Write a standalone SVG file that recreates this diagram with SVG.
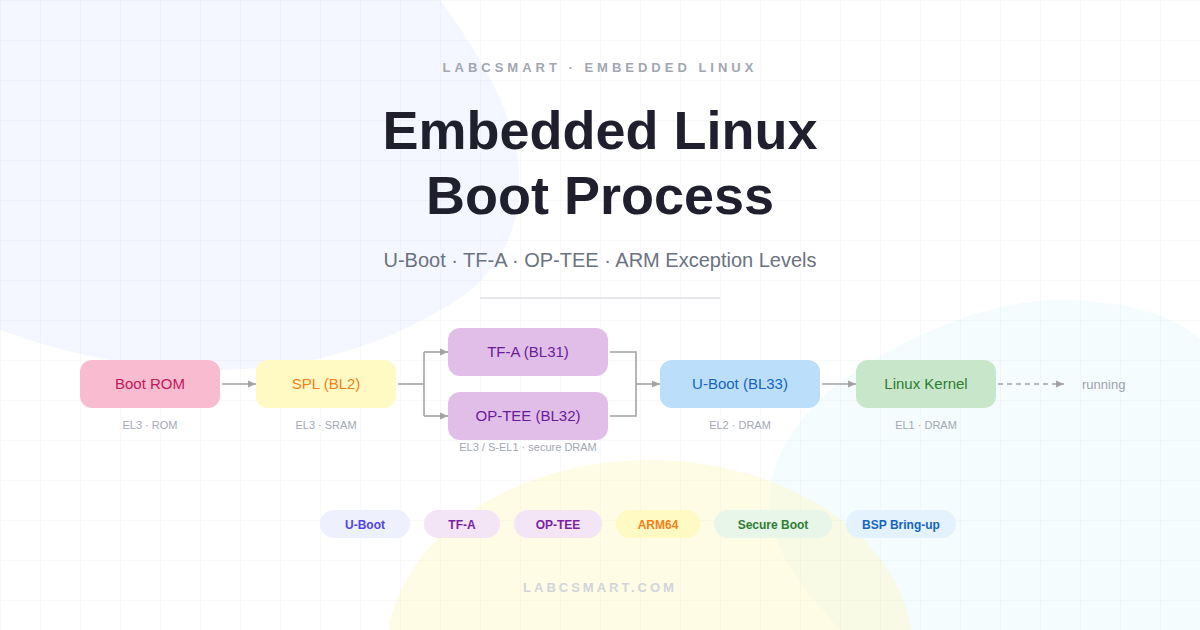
<svg xmlns="http://www.w3.org/2000/svg" width="1200" height="630" viewBox="0 0 1200 630">
<defs>
<pattern id="grid" width="40" height="40" patternUnits="userSpaceOnUse">
<path d="M40,0 L0,0 L0,40" fill="none" stroke="#1e2850" stroke-opacity="0.05" stroke-width="1"/>
</pattern>
<marker id="arr" markerUnits="userSpaceOnUse" markerWidth="8" markerHeight="8" viewBox="0 0 8 8" refX="8" refY="4" orient="auto">
<path d="M0,0.5 L8,4 L0,7.5 Z" fill="#a3a3a3"/>
</marker>
</defs>
<style>
text{font-family:"Liberation Sans",Arial,sans-serif}
.node text{font-size:15px;text-anchor:middle}
.node text.sub{font-size:11px;fill:#a3a8b3;text-anchor:middle}
.conn path,.conn line{fill:none;stroke:#a3a3a3;stroke-width:1.6}
.pill text{font-size:12px;font-weight:bold;text-anchor:middle}
</style>
<rect width="1200" height="630" fill="#ffffff"/>
<path d="M440,0 C470,40 500,90 512,130 C522,165 522,205 510,235 C495,272 470,295 440,310 C390,340 320,368 220,370 C140,371 60,352 0,330 L0,0 Z" fill="#e0e7ff" fill-opacity="0.35"/>
<path d="M1060,300 C1130,300 1180,318 1200,340 L1200,630 L840,630 C810,595 775,560 770,510 C766,460 800,410 850,375 C910,335 990,300 1060,300 Z" fill="#e0f7fa" fill-opacity="0.35"/>
<ellipse cx="650" cy="652" rx="263" ry="192" fill="#fef9c3" fill-opacity="0.42"/>
<rect width="1200" height="630" fill="url(#grid)"/>

<text x="600" y="72" text-anchor="middle" font-size="13" font-weight="bold" letter-spacing="4" fill="#a2a6b1">LABCSMART · EMBEDDED LINUX</text>
<text x="600" y="149" text-anchor="middle" font-size="54" font-weight="bold" fill="#1f1f2e">Embedded Linux</text>
<text x="600" y="214" text-anchor="middle" font-size="54" font-weight="bold" fill="#1f1f2e">Boot Process</text>
<text x="600" y="267" text-anchor="middle" font-size="20" fill="#6b7280">U-Boot · TF-A · OP-TEE · ARM Exception Levels</text>
<line x1="480" y1="298" x2="720" y2="298" stroke="#e5e7eb" stroke-width="2"/>

<g class="conn" id="connectors">
<line x1="222" y1="384" x2="256" y2="384" marker-end="url(#arr)"/>
<path d="M398,384 H424"/>
<path d="M424,352 V416"/>
<line x1="424" y1="352" x2="448" y2="352" marker-end="url(#arr)"/>
<line x1="424" y1="416" x2="448" y2="416" marker-end="url(#arr)"/>
<path d="M610,352 H636 V416 H610"/>
<line x1="636" y1="384" x2="660" y2="384" marker-end="url(#arr)"/>
<line x1="822" y1="384" x2="856" y2="384" marker-end="url(#arr)"/>
<line x1="998" y1="384" x2="1064" y2="384" stroke-dasharray="5 4" marker-end="url(#arr)"/>
</g>

<g class="node" id="boot-rom">
<rect x="80" y="360" width="140" height="48" rx="12" fill="#f8bbd0"/>
<text x="150" y="389" fill="#c2185b">Boot ROM</text>
<text class="sub" x="150" y="428.5">EL3 · ROM</text>
</g>
<g class="node" id="spl">
<rect x="256" y="360" width="140" height="48" rx="12" fill="#fff9c4"/>
<text x="326" y="389" fill="#f57f17">SPL (BL2)</text>
<text class="sub" x="326" y="428.5">EL3 · SRAM</text>
</g>
<g class="node" id="tfa">
<rect x="448" y="328" width="160" height="48" rx="12" fill="#e1bee7"/>
<text x="528" y="357" fill="#6a1b9a">TF-A (BL31)</text>
</g>
<g class="node" id="optee">
<rect x="448" y="392" width="160" height="48" rx="12" fill="#e1bee7"/>
<text x="528" y="421" fill="#6a1b9a">OP-TEE (BL32)</text>
<text class="sub" x="528" y="450.5">EL3 / S-EL1 · secure DRAM</text>
</g>
<g class="node" id="uboot">
<rect x="660" y="360" width="160" height="48" rx="12" fill="#bbdefb"/>
<text x="740" y="389" fill="#1565c0">U-Boot (BL33)</text>
<text class="sub" x="740" y="428.5">EL2 · DRAM</text>
</g>
<g class="node" id="kernel">
<rect x="856" y="360" width="140" height="48" rx="12" fill="#c8e6c9"/>
<text x="926" y="389" fill="#2e7d32">Linux Kernel</text>
<text class="sub" x="926" y="428.5">EL1 · DRAM</text>
</g>
<g id="running">
<text x="1082" y="388.5" font-size="13" fill="#9ca3af">running</text>
</g>

<g class="pill" id="tag-uboot"><rect x="320" y="510" width="90" height="28" rx="14" fill="#eef0fd"/><text x="365" y="528.5" fill="#4f46e5">U-Boot</text></g>
<g class="pill" id="tag-tfa"><rect x="424" y="510" width="76" height="28" rx="14" fill="#f3e5f5"/><text x="462" y="528.5" fill="#7b1fa2">TF-A</text></g>
<g class="pill" id="tag-optee"><rect x="514" y="510" width="88" height="28" rx="14" fill="#f3e5f5"/><text x="558" y="528.5" fill="#7b1fa2">OP-TEE</text></g>
<g class="pill" id="tag-arm64"><rect x="616" y="510" width="84" height="28" rx="14" fill="#fff9c4"/><text x="658" y="528.5" fill="#f57f17">ARM64</text></g>
<g class="pill" id="tag-secure"><rect x="714" y="510" width="118" height="28" rx="14" fill="#e8f5e9"/><text x="773" y="528.5" fill="#2e7d32">Secure Boot</text></g>
<g class="pill" id="tag-bsp"><rect x="846" y="510" width="110" height="28" rx="14" fill="#e3f2fd"/><text x="901" y="528.5" fill="#1565c0">BSP Bring-up</text></g>

<text x="600" y="592" text-anchor="middle" font-size="13" font-weight="bold" letter-spacing="3" fill="#d1d5db">LABCSMART.COM</text>
</svg>
